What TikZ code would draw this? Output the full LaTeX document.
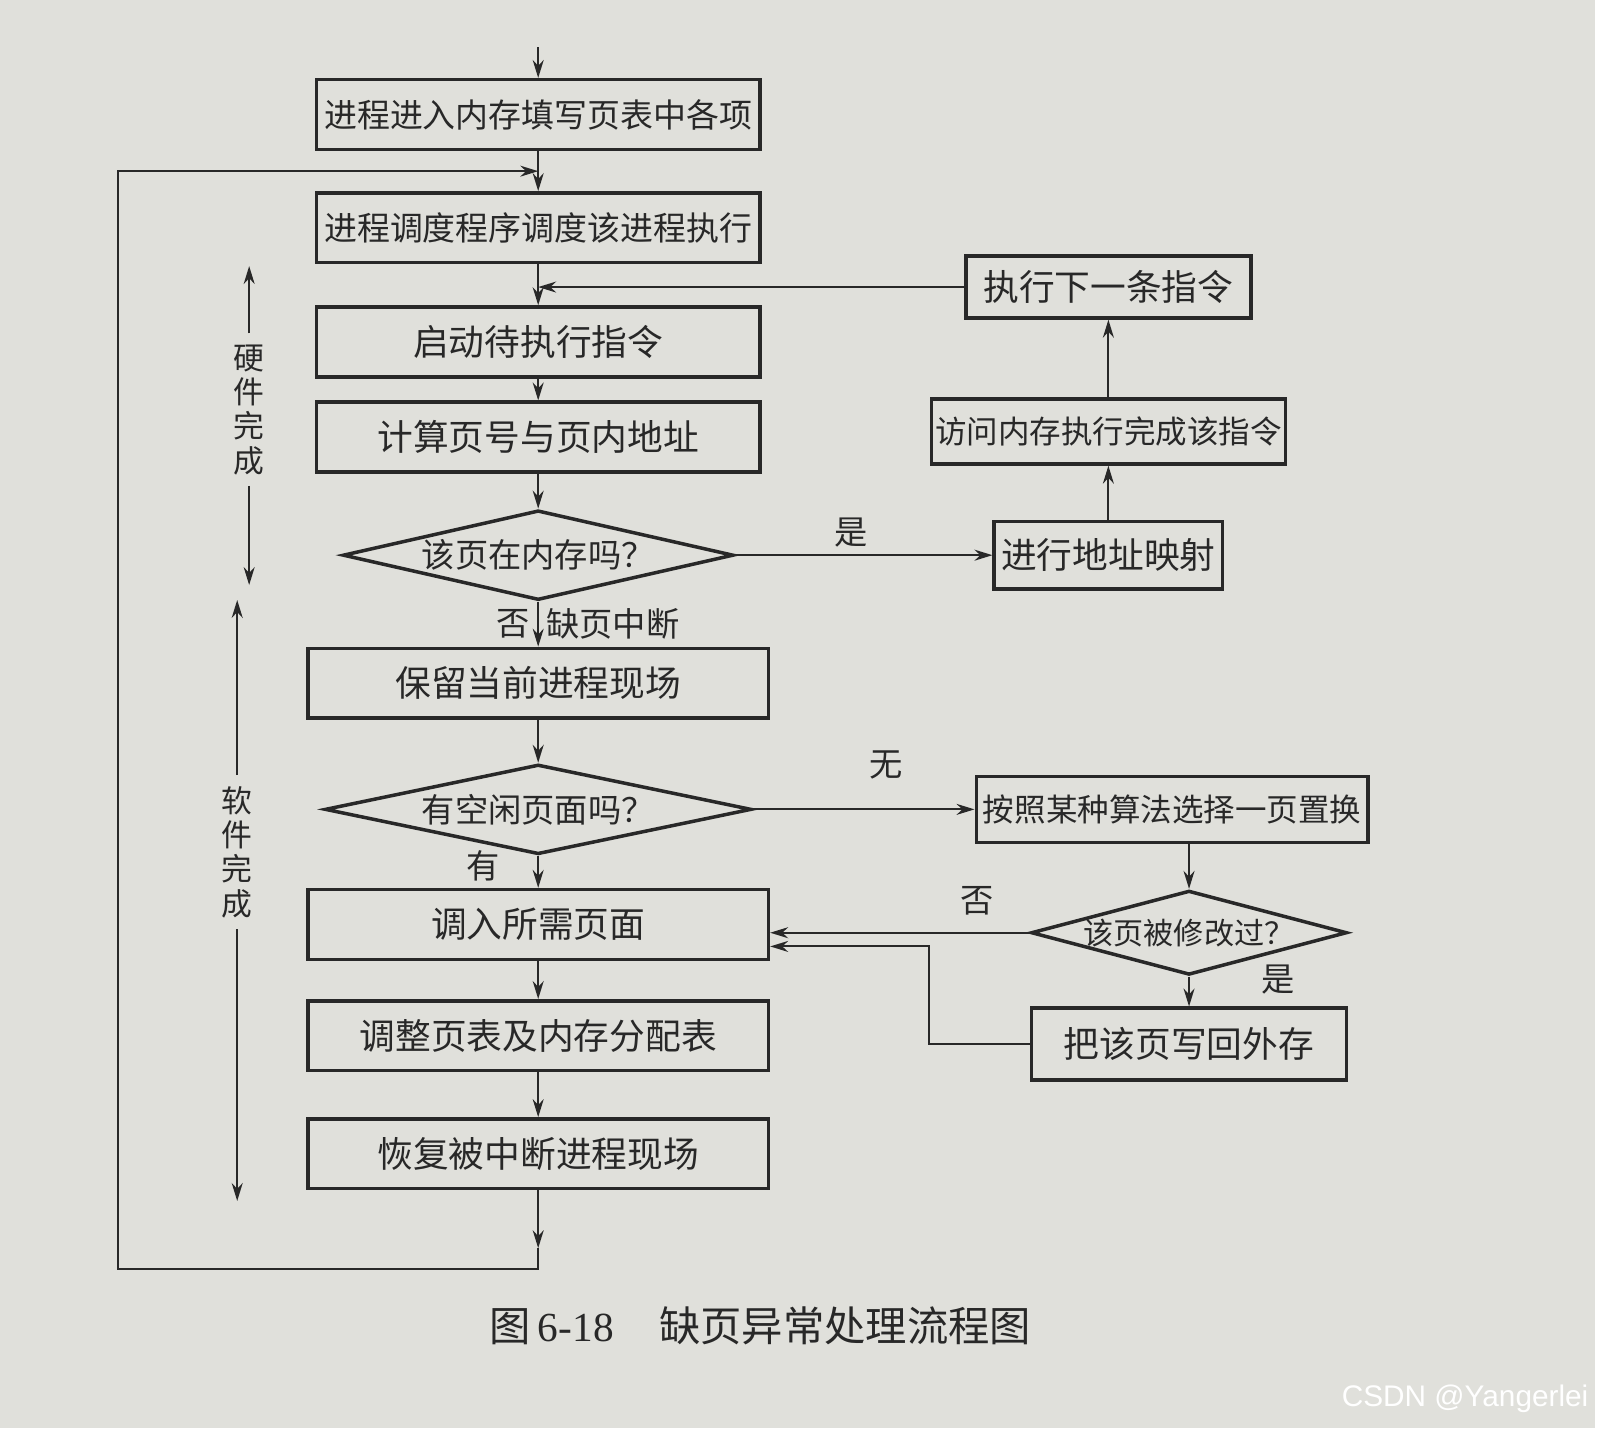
\documentclass[tikz,border=0pt]{standalone}
\usepackage{fontspec}
\setmainfont{Noto Sans CJK SC}
\newfontfamily\numfont{Liberation Serif}
\newfontfamily\markfont{Liberation Sans}
\usetikzlibrary{shapes.geometric, arrows.meta, positioning, calc}
\definecolor{paper}{RGB}{224,224,219}
\definecolor{ink}{RGB}{40,40,40}

\begin{document}
\begin{tikzpicture}[
		node distance = 0.4cm,
		>={Stealth[length=1.8mm, width=1.1mm]},
		block/.style = {draw=ink, rectangle, line width=1pt, minimum height=0.7cm, minimum width=4.45cm, align=center, inner sep=2pt, font=\fontsize{10.2}{12}\selectfont, text=ink},
		wide/.style = {minimum width=4.62cm},
		decision/.style = {draw=ink, diamond, line width=1pt, inner sep=0pt, font=\fontsize{9.5}{11}\selectfont, text=ink},
		yesno/.style = {font=\fontsize{9.5}{11}\selectfont, text=ink, inner sep=2pt},
		side/.style = {font=\fontsize{8.8}{9.8}\selectfont, align=center, text=ink, inner sep=3pt},
		flow/.style = {->, draw=ink, line width=0.6pt}
		]
		
		\fill [paper] (0,0) rectangle (16,-14.33);
		
		% main column
		\node [block, font=\fontsize{9.4}{11}\selectfont] (enter) at (5.40,-1.15) {进程进入内存填写页表中各项};
		\node [block, below=0.40cm of enter, font=\fontsize{9.4}{11}\selectfont] (sched) {进程调度程序调度该进程执行};
		\node [block, below=0.41cm of sched] (start) {启动待执行指令};
		\node [block, below=0.22cm of start] (calc) {计算页号与页内地址};
		\node [decision, below=0.35cm of calc, aspect=4.35, minimum width=3.92cm, minimum height=0.9cm] (inmem) {该页在内存吗？};
		\node [block, wide, below=0.45cm of inmem] (save) {保留当前进程现场};
		\node [decision, below=0.43cm of save, aspect=4.75, minimum width=4.28cm, minimum height=0.9cm] (free) {有空闲页面吗？};
		\node [block, wide, below=0.32cm of free] (load) {调入所需页面};
		\node [block, wide, below=0.38cm of load] (adjust) {调整页表及内存分配表};
		\node [block, wide, below=0.45cm of adjust] (restore) {恢复被中断进程现场};
		
		% page present
		\node [block, right=2.58cm of inmem, minimum width=2.24cm, minimum height=0.68cm] (mapaddr) {进行地址映射};
		\node [block, above=0.54cm of mapaddr, minimum width=3.55cm, minimum height=0.65cm, inner xsep=1pt, font=\fontsize{9}{11}\selectfont] (access) {访问内存执行完成该指令};
		\node [block, above=0.78cm of access, minimum width=2.86cm, minimum height=0.62cm] (next) {执行下一条指令};
		
		% no free frame
		\node [block, right=2.22cm of free, minimum width=3.93cm, minimum height=0.66cm, inner xsep=1pt, font=\fontsize{9}{11}\selectfont] (replace) {按照某种算法选择一页置换};
		\node [decision, below=0.45cm of replace, xshift=0.17cm, aspect=3.75, minimum width=3.08cm, minimum height=0.82cm, font=\fontsize{8.6}{10}\selectfont] (modified) {该页被修改过？};
		\node [block, below=0.3cm of modified, minimum width=3.16cm, minimum height=0.72cm] (writeback) {把该页写回外存};
		
		% hardware / software
		\node [side] (hw) at (2.50,-4.11) {硬\\件\\完\\成};
		\node [side] (sw) at (2.38,-8.55) {软\\件\\完\\成};
		\coordinate (hwtop) at (2.50,-2.67);
		\coordinate (hwbot) at (2.50,-5.87);
		\coordinate (swtop) at (2.38,-6.02);
		\coordinate (swbot) at (2.38,-12.05);
		\draw [flow] (hw.north) -- (hwtop);
		\draw [flow] (hw.south) -- (hwbot);
		\draw [flow] (sw.north) -- (swtop);
		\draw [flow] (sw.south) -- (swbot);
		
		\coordinate (in) at ($(enter.north)+(0,0.31)$);
		\draw [flow] (in) -- (enter);
		\draw [flow] (enter) -- (sched);
		\draw [flow] (sched) -- (start);
		\draw [flow] (start) -- (calc);
		\draw [flow] (calc) -- (inmem);
		\draw [flow] (inmem) -- node[yesno, left, pos=0.5] {否} node[yesno, right, pos=0.5] {缺页中断} (save);
		\draw [flow] (save) -- (free);
		\draw [flow] (free) -- node[yesno, left=0.3cm, pos=0.3] {有} (load);
		\draw [flow] (load) -- (adjust);
		\draw [flow] (adjust) -- (restore);
		
		\draw [flow] (inmem.east) -- node[yesno, above, pos=0.45] {是} (mapaddr.west);
		\draw [flow] (mapaddr) -- (access);
		\draw [flow] (access) -- (next);
		\coordinate (join) at (next.west -| start.north);
		\draw [flow] (next.west) -- (join);
		
		\draw [flow] (free.east) -- node[yesno, above=0.22cm, pos=0.6] {无} (replace.west);
		\draw [flow] (replace.south -| modified.north) -- (modified.north);
		\draw [flow] (modified.west) -- node[yesno, above=0.1cm, pos=0.2] {否} (modified.west -| load.east);
		\draw [flow] (modified.south) -- node[yesno, right=0.65cm, pos=0.1] {是} (writeback.north);
		\coordinate (backin) at ($(load.east)+(0,-0.22)$);
		\draw [flow] (writeback.west) -- ++(-1.01,0) |- (backin);
		
		% back to the scheduler
		\coordinate (tip) at ($(restore.south)+(0,-0.58)$);
		\coordinate (bottom) at ($(restore.south)+(0,-0.79)$);
		\coordinate (merge) at ($(enter.south)!0.5!(sched.north)$);
		\coordinate (leftx) at (1.18,0);
		\draw [flow] (restore) -- (tip);
		\draw [flow] (tip) -- (bottom) -| (leftx |- merge) -- (merge);
		
		\node [font=\fontsize{11.8}{14}\selectfont, text=ink] (caption) at (7.63,-13.30) {图\,{\numfont 6-18}\hspace{1.1em}缺页异常处理流程图};
		\node [font=\fontsize{8.5}{10}\selectfont\markfont, text=white] (mark) at (14.70,-14.03) {CSDN @Yangerlei};
		
	\end{tikzpicture}
\end{document}
